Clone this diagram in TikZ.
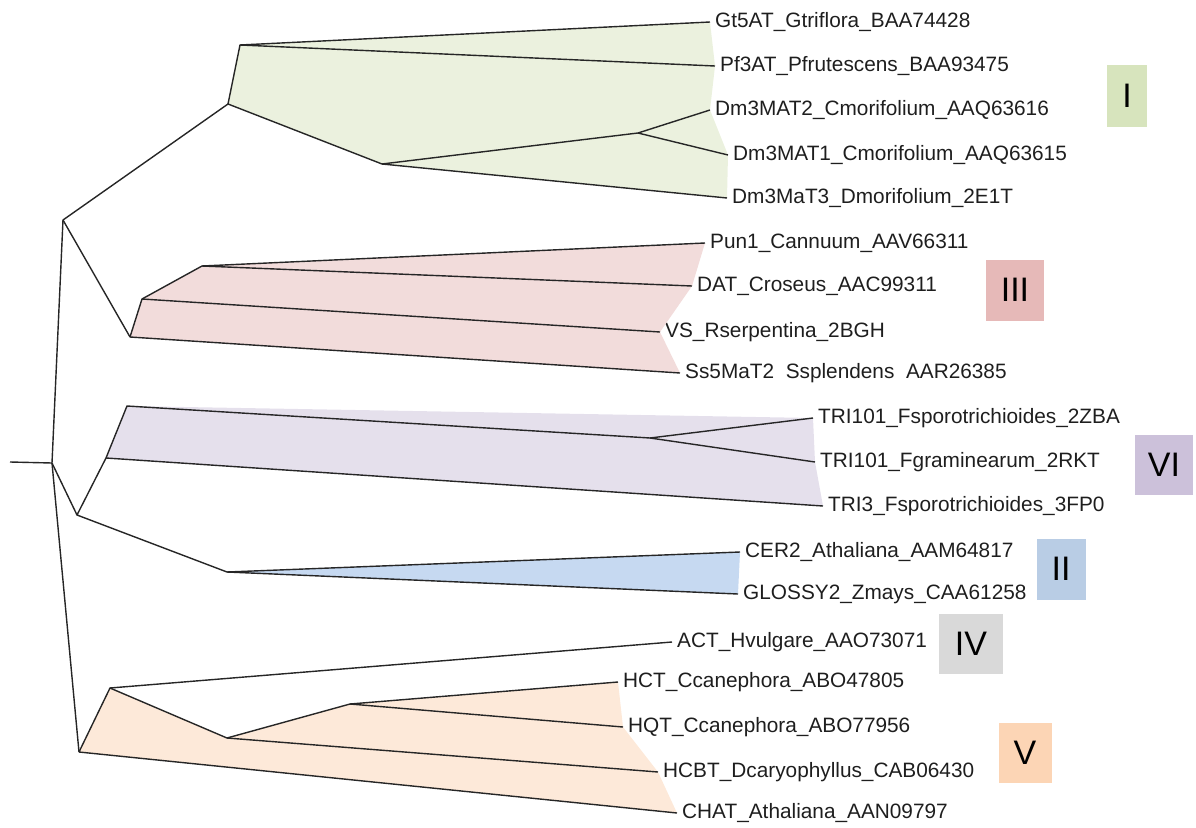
\documentclass[tikz,border=0pt]{standalone}
\usepackage{fontspec}
\setmainfont{Liberation Sans}
\usepackage{xcolor}
\definecolor{fillI}{HTML}{EBF1DE}
\definecolor{fillIII}{HTML}{F2DCDB}
\definecolor{fillVI}{HTML}{E5E0EC}
\definecolor{fillII}{HTML}{C6D9F1}
\definecolor{fillV}{HTML}{FDE9D9}
\definecolor{boxI}{HTML}{D7E4BD}
\definecolor{boxIII}{HTML}{E6B9B8}
\definecolor{boxVI}{HTML}{CCC1DA}
\definecolor{boxII}{HTML}{B9CDE5}
\definecolor{boxIV}{HTML}{D9D9D9}
\definecolor{boxV}{HTML}{FCD5B5}
\definecolor{labtext}{HTML}{1E1E1E}
\tikzset{
  branch/.style={draw=black!85, line width=1.4pt, line join=round},
  leaf/.style={anchor=west, inner xsep=5pt, inner ysep=0pt, text=labtext,
    font=\fontsize{20.8}{25}\selectfont},
  clade/.style={fill=#1, inner sep=0pt, text=black,
    font=\fontsize{34}{40}\selectfont}
}

\begin{document}
\begin{tikzpicture}[x=1pt,y=-1pt]

	\useasboundingbox (0,0) rectangle (1196,827);

	\coordinate (stub) at (10,462);
	\coordinate (root) at (52,463);
	\coordinate (n1) at (63,220);
	\coordinate (n2) at (228,104);
	\coordinate (n3) at (240,45);
	\coordinate (n4) at (382,164);
	\coordinate (n5) at (638,133);
	\coordinate (n6) at (130,337);
	\coordinate (n7) at (142,299);
	\coordinate (n8) at (202,266);
	\coordinate (n9) at (77,515);
	\coordinate (n10) at (106,458);
	\coordinate (n11) at (127,406);
	\coordinate (n12) at (650,438);
	\coordinate (n13) at (227,572);
	\coordinate (n14) at (79,752);
	\coordinate (n15) at (110,688);
	\coordinate (n16) at (227,738);
	\coordinate (n17) at (350,704);

	\node[leaf] (gtfive) at (710,22) {Gt5AT\_Gtriflora\_BAA74428};
	\node[leaf] (pfthree) at (715,66) {Pf3AT\_Pfrutescens\_BAA93475};
	\node[leaf] (dmtwo) at (710,110) {Dm3MAT2\_Cmorifolium\_AAQ63616};
	\node[leaf] (dmone) at (728,155) {Dm3MAT1\_Cmorifolium\_AAQ63615};
	\node[leaf] (dmthree) at (727,198) {Dm3MaT3\_Dmorifolium\_2E1T};
	\node[leaf] (pun) at (705,243) {Pun1\_Cannuum\_AAV66311};
	\node[leaf] (dat) at (692,286) {DAT\_Croseus\_AAC99311};
	\node[leaf] (vs) at (660,332) {VS\_Rserpentina\_2BGH};
	\node[leaf] (ssfive) at (680,373) {Ss5MaT2\phantom{\_}Ssplendens\phantom{\_}AAR26385};
	\node[leaf] (trizba) at (813,418) {TRI101\_Fsporotrichioides\_2ZBA};
	\node[leaf] (trirkt) at (815,462) {TRI101\_Fgraminearum\_2RKT};
	\node[leaf] (trithree) at (823,506) {TRI3\_Fsporotrichioides\_3FP0};
	\node[leaf] (cer) at (740,552) {CER2\_Athaliana\_AAM64817};
	\node[leaf] (glossy) at (738,594) {GLOSSY2\_Zmays\_CAA61258};
	\node[leaf] (act) at (672,642) {ACT\_Hvulgare\_AAO73071};
	\node[leaf] (hct) at (618,682) {HCT\_Ccanephora\_ABO47805};
	\node[leaf] (hqt) at (623,727) {HQT\_Ccanephora\_ABO77956};
	\node[leaf] (hcbt) at (658,772) {HCBT\_Dcaryophyllus\_CAB06430};
	\node[leaf] (chat) at (677,813) {CHAT\_Athaliana\_AAN09797};

	\fill[fillI] (n2) -- (n3) -- (gtfive.west) -- (pfthree.west) -- (dmtwo.west)
		-- (dmone.west) -- (dmthree.west) -- (n4) -- cycle;
	\fill[fillIII] (n6) -- (n7) -- (n8) -- (pun.west) -- (dat.west) -- (vs.west)
		-- (ssfive.west) -- cycle;
	\fill[fillVI] (n10) -- (n11) -- (trizba.west) -- (trirkt.west) -- (trithree.west) -- cycle;
	\fill[fillII] (n13) -- (cer.west) -- (glossy.west) -- cycle;
	\fill[fillV] (n14) -- (n15) -- (n16) -- (n17) -- (hct.west) -- (hqt.west)
		-- (hcbt.west) -- (chat.west) -- cycle;

	\draw[branch] (stub) -- (root);
	\draw[branch] (n1) -- (root) -- (n14);
	\draw[branch] (root) -- (n9);

	\draw[branch] (n6) -- (n1) -- (n2) -- (n4) -- (dmthree.west);
	\draw[branch] (n2) -- (n3) -- (gtfive.west);
	\draw[branch] (n3) -- (pfthree.west);
	\draw[branch] (n4) -- (n5) -- (dmtwo.west);
	\draw[branch] (n5) -- (dmone.west);

	\draw[branch] (n6) -- (n7) -- (n8) -- (pun.west);
	\draw[branch] (n8) -- (dat.west);
	\draw[branch] (n7) -- (vs.west);
	\draw[branch] (n6) -- (ssfive.west);

	\draw[branch] (n13) -- (n9) -- (n10) -- (n11) -- (n12) -- (trizba.west);
	\draw[branch] (n12) -- (trirkt.west);
	\draw[branch] (n10) -- (trithree.west);
	\draw[branch] (n13) -- (cer.west);
	\draw[branch] (n13) -- (glossy.west);

	\draw[branch] (n14) -- (n15) -- (act.west);
	\draw[branch] (n15) -- (n16) -- (n17) -- (hct.west);
	\draw[branch] (n17) -- (hqt.west);
	\draw[branch] (n16) -- (hcbt.west);
	\draw[branch] (n14) -- (chat.west);

	\node[clade=boxI, minimum width=40pt, minimum height=62pt] (cI) at (1127,96) {I};
	\node[clade=boxIII, minimum width=58pt, minimum height=61pt] (cIII) at (1015,290) {III};
	\node[clade=boxVI, minimum width=58pt, minimum height=60pt] (cVI) at (1164,465) {VI};
	\node[clade=boxII, minimum width=49pt, minimum height=61pt] (cII) at (1061,569) {II};
	\node[clade=boxIV, minimum width=64pt, minimum height=60pt] (cIV) at (971,644) {IV};
	\node[clade=boxV, minimum width=53pt, minimum height=60pt] (cV) at (1025,753) {V};

\end{tikzpicture}
\end{document}
